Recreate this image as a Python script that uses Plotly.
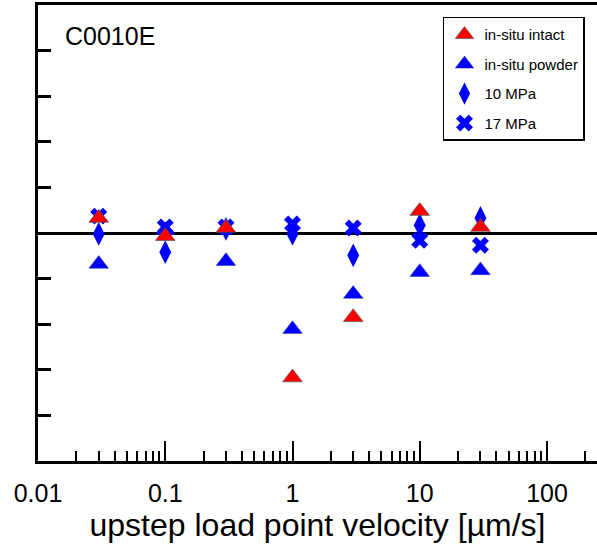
import plotly.graph_objects as go

velocity = [0.03, 0.1, 0.3, 1, 3, 10, 30]
insitu_intact = [0.33, -0.07, 0.11, -3.17, -1.85, 0.48, 0.13]
insitu_powder = [-0.68, 0.06, -0.62, -2.11, -1.34, -0.86, -0.82]
mpa10 = [-0.02, -0.42, 0.09, -0.02, -0.49, 0.17, 0.33]
mpa17 = [0.37, 0.13, 0.13, 0.20, 0.11, -0.16, -0.27]

x_ticks = [0.01, 0.1, 1, 10, 100]
x_ticktext = ["0.01", "0.1", "1", "10", "100"]

fig = go.Figure()
fig.add_trace(go.Scatter(x=velocity, y=insitu_powder, mode="markers", name="in-situ powder",
                         legendrank=2, legendgroup="b",
                         marker=dict(symbol="triangle-up", size=17, color="#0000ff",
                                     line=dict(width=0.5, color="#3030a0"))))
fig.add_trace(go.Scatter(x=velocity, y=mpa10, mode="markers", name="10 MPa",
                         legendrank=3, legendgroup="c",
                         marker=dict(symbol="diamond-tall", size=17, color="#0000ff",
                                     line=dict(width=0))))
fig.add_trace(go.Scatter(x=velocity, y=mpa17, mode="markers", name="17 MPa",
                         legendrank=4, legendgroup="d",
                         marker=dict(symbol="x", size=15, color="#0000ff",
                                     line=dict(width=0))))
fig.add_trace(go.Scatter(x=velocity, y=insitu_intact, mode="markers", name="in-situ intact",
                         legendrank=1, legendgroup="a",
                         marker=dict(symbol="triangle-up", size=17, color="#ff0000",
                                     line=dict(width=0.7, color="#555555"))))

fig.update_layout(
    width=597, height=551,
    margin=dict(l=38, r=0, t=5, b=90),
    plot_bgcolor="white", paper_bgcolor="white",
    font=dict(family="Liberation Sans, Arial, sans-serif", color="black"),
    showlegend=True,
    legend=dict(x=0.7245, y=0.974, xanchor="left", yanchor="top",
                bordercolor="black", borderwidth=1.5, bgcolor="white",
                font=dict(size=15), tracegroupgap=7, traceorder="grouped"),
    annotations=[dict(text="C0010E", x=0.045, y=0.968, xref="paper", yref="paper",
                      xanchor="left", yanchor="top", showarrow=False,
                      font=dict(size=25))],
)
fig.update_xaxes(type="log", range=[-2, 2.393], showgrid=False,
                 showline=True, linecolor="black", linewidth=3, mirror=True,
                 ticks="inside", ticklen=20, tickwidth=2, tickcolor="black",
                 tickvals=x_ticks, ticktext=x_ticktext, tickfont=dict(size=25),
                 ticklabelstandoff=8,
                 minor=dict(ticks="inside", ticklen=10, tickwidth=2, tickcolor="black",
                            dtick="D1", showgrid=False),
                 title=dict(text="upstep load point velocity [µm/s]", font=dict(size=32), standoff=2),
                 zeroline=False)
fig.update_yaxes(range=[-5, 5], dtick=1, showgrid=False, showticklabels=False,
                 showline=True, linecolor="black", linewidth=3, mirror=False,
                 ticks="inside", ticklen=13, tickwidth=3, tickcolor="black",
                 zeroline=True, zerolinecolor="black", zerolinewidth=3)

fig.write_html("out.html")
